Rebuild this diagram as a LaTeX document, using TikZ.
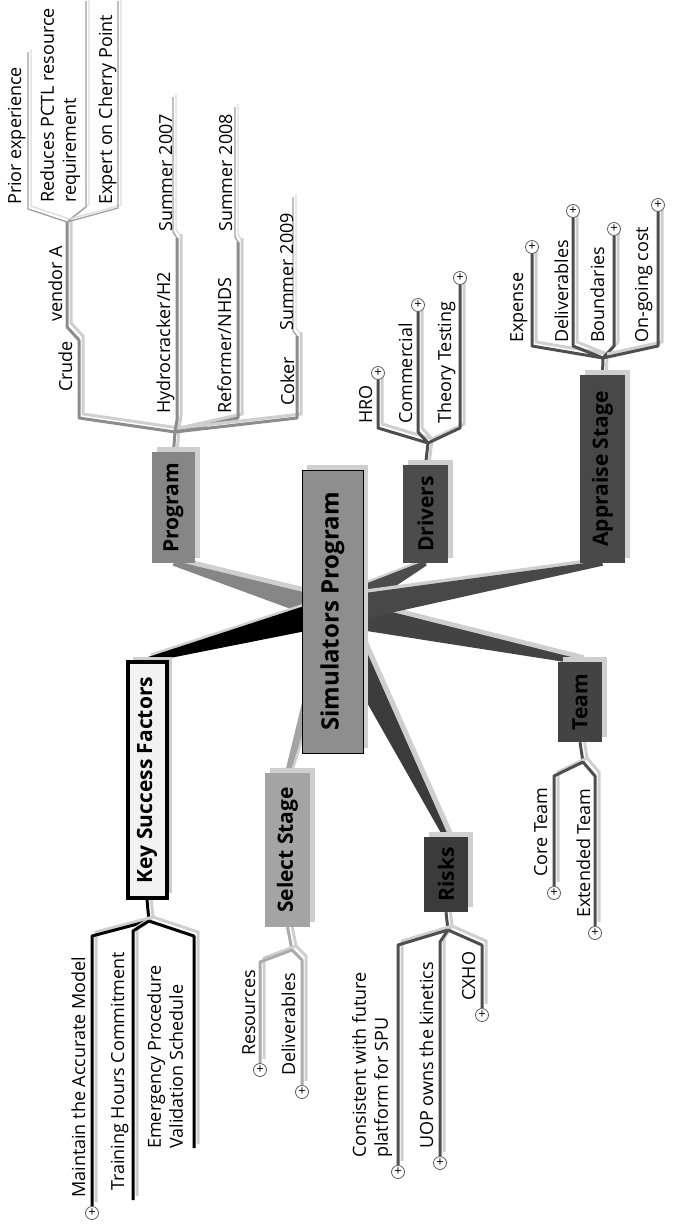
\documentclass[tikz,border=0pt]{standalone}
\usepackage{fontspec}
\setmainfont{Open Sans}
\usetikzlibrary{calc,shadows}
\definecolor{rootfill}{HTML}{8E8E8E}
\definecolor{progfill}{HTML}{868686}
\definecolor{selfill}{HTML}{A4A4A4}
\definecolor{drvfill}{HTML}{4C4C4C}
\definecolor{apprfill}{HTML}{484848}
\definecolor{teamfill}{HTML}{434343}
\definecolor{riskfill}{HTML}{3B3B3B}
\definecolor{ksffill}{HTML}{F2F2F2}
\definecolor{progline}{HTML}{8C8C8C}
\definecolor{fineline}{HTML}{A0A0A0}
\definecolor{selline}{HTML}{ABABAB}
\definecolor{darkline}{HTML}{4E4E4E}
\definecolor{shadowc}{HTML}{CFCFCF}
\pgfdeclarelayer{back}
\pgfsetlayers{back,main}
% tapered connector from the root: from, to, colour, half width at the root
\newcommand\spoke[4]{%
  \fill[shadowc, transform canvas={shift={(4pt,4pt)}}]
    ($(#1)!#4!90:(#2)$) -- ($(#1)!#4!-90:(#2)$) --
    ($(#2)!2.5pt!90:(#1)$) -- ($(#2)!2.5pt!-90:(#1)$) -- cycle;
  \fill[#3]
    ($(#1)!#4!90:(#2)$) -- ($(#1)!#4!-90:(#2)$) --
    ($(#2)!2.5pt!90:(#1)$) -- ($(#2)!2.5pt!-90:(#1)$) -- cycle;}

\begin{document}
\begin{tikzpicture}[x=1pt, y=-1pt,
  box/.style={inner sep=0pt, font=\fontsize{21}{25}\selectfont\bfseries,
    drop shadow={shadow xshift=5pt, shadow yshift=5pt, fill=shadowc, opacity=1}},
  root/.style={box, draw=black, line width=0.6pt, fill=rootfill,
    font=\fontsize{24}{28}\selectfont\bfseries},
  leaf/.style={rotate=90, anchor=base west, inner sep=0pt, font=\fontsize{18}{22}\selectfont},
  twoline/.style={leaf, align=left, anchor=north west},
  twig/.style={line width=3pt, line join=round,
    preaction={draw=shadowc, line width=3pt, transform canvas={shift={(4pt,4pt)}}}},
  sprig/.style={line width=1.3pt, line join=round, draw=fineline,
    preaction={draw=shadowc!70, line width=1.3pt, transform canvas={shift={(3pt,3pt)}}}},
  plusmark/.style={circle, draw=black!65, fill=white, line width=0.8pt,
    minimum size=13pt, inner sep=0pt, font=\fontsize{13}{13}\selectfont}]
  \useasboundingbox (0,0) rectangle (674,1224);

  % main topics
  \node[root, minimum width=61pt, minimum height=283pt] (sim) at (332.5,611.5) {\rotatebox{90}{Simulators Program}};
  \node[box, fill=progfill, minimum width=43pt, minimum height=111pt] (prog) at (173.5,507.5) {\rotatebox{90}{Program}};
  \node[box, draw=black, line width=4pt, fill=ksffill, minimum width=39pt, minimum height=236pt] (ksf) at (147,780) {\rotatebox{90}{Key Success Factors}};
  \node[box, fill=selfill, minimum width=45pt, minimum height=154pt] (sel) at (287.5,850) {\rotatebox{90}{Select Stage}};
  \node[box, fill=riskfill, minimum width=44pt, minimum height=75pt] (risk) at (446,874.5) {\rotatebox{90}{Risks}};
  \node[box, fill=teamfill, minimum width=44pt, minimum height=80pt] (team) at (580,702) {\rotatebox{90}{Team}};
  \node[box, fill=drvfill, minimum width=45pt, minimum height=98pt] (drv) at (425.5,514) {\rotatebox{90}{Drivers}};
  \node[box, fill=apprfill, minimum width=45pt, minimum height=188pt] (appr) at (602.5,469) {\rotatebox{90}{Appraise Stage}};

  % Program
  \coordinate (pj) at (175,432);
  \coordinate (vj) at (67,222);
  \coordinate (pr) at (28,52);
  \coordinate (rd) at (86,1);
  \coordinate (ex) at (118,1);
  \coordinate (hy) at (177,238);
  \coordinate (s7) at (173,97);
  \coordinate (rf) at (238,242);
  \coordinate (s8) at (235,107);
  \coordinate (ck) at (297,336);
  \coordinate (s9) at (293,197);
  \node[leaf] (crude) at (72,392) {Crude};
  \node[leaf] (vendor) at (62,322) {vendor A};
  \node[leaf] (prior) at (21,205) {Prior experience};
  \node[twoline] (pctl) at (40,203) {Reduces PCTL resource\\requirement};
  \node[leaf] (expert) at (112,205) {Expert on Cherry Point};
  \node[leaf] (hydro) at (170,414) {Hydrocracker/H2};
  \node[leaf] (sum7) at (172,232) {Summer 2007};
  \node[leaf] (reform) at (231,414) {Reformer/NHDS};
  \node[leaf] (sum8) at (232,232) {Summer 2008};
  \node[leaf] (coker) at (294,406) {Coker};
  \node[leaf] (sum9) at (293,331) {Summer 2009};

  % Drivers
  \coordinate (dj) at (428,443);
  \node[plusmark] (hroE) at (378,373) {+};
  \node[plusmark] (comE) at (418,305) {+};
  \node[plusmark] (theE) at (460,278) {+};
  \node[leaf] (hro) at (372,424) {HRO};
  \node[leaf] (comm) at (412,424) {Commercial};
  \node[leaf] (theory) at (451,424) {Theory Testing};

  % Appraise Stage
  \coordinate (aj) at (603,358);
  \node[plusmark] (expE) at (532,247) {+};
  \node[plusmark] (delE) at (573,211) {+};
  \node[plusmark] (bouE) at (614,229) {+};
  \node[plusmark] (ongE) at (658,205) {+};
  \node[leaf] (expense) at (523,343) {Expense};
  \node[leaf] (adeliv) at (568,343) {Deliverables};
  \node[leaf] (bound) at (604,343) {Boundaries};
  \node[leaf] (ongo) at (648,343) {On-going cost};

  % Team
  \coordinate (tj) at (583,762);
  \node[plusmark] (corE) at (554,893) {+};
  \node[plusmark] (extE) at (595,933) {+};
  \node[leaf] (core) at (547,877) {Core Team};
  \node[leaf] (ext) at (590,918) {Extended Team};

  % Risks
  \coordinate (rj) at (448,930);
  \node[plusmark] (conE) at (398,1172) {+};
  \node[plusmark] (uopE) at (440,1163) {+};
  \node[plusmark] (cxhE) at (482,1015) {+};
  \node[twoline] (consist) at (352,1158) {Consistent with future\\platform for SPU};
  \node[leaf] (uop) at (433,1149) {UOP owns the kinetics};
  \node[leaf] (cxho) at (475,1001) {CXHO};

  % Select Stage
  \coordinate (sj) at (292,950);
  \node[plusmark] (resE) at (260,1070) {+};
  \node[plusmark] (sdeE) at (302,1092) {+};
  \node[leaf] (resour) at (255,1056) {Resources};
  \node[leaf] (sdeliv) at (295,1076) {Deliverables};

  % Key Success Factors
  \coordinate (kj) at (149,921);
  \coordinate (tra) at (133,1200);
  \coordinate (eme) at (194,1148);
  \node[plusmark] (maiE) at (92,1213) {+};
  \node[leaf] (maint) at (85,1198) {Maintain the Accurate Model};
  \node[leaf] (train) at (124,1191) {Training Hours Commitment};
  \node[twoline] (emerg) at (147,1149) {Emergency Procedure\\Validation Schedule};

  \begin{pgfonlayer}{back}
    \spoke{sim.center}{prog.south}{progfill}{12pt}
    \spoke{sim.center}{ksf.north}{black}{14pt}
    \spoke{sim.center}{sel.north}{selfill}{8pt}
    \spoke{sim.center}{risk.north}{riskfill}{15pt}
    \spoke{sim.center}{team.north}{teamfill}{14pt}
    \spoke{sim.center}{drv.south}{drvfill}{14pt}
    \spoke{sim.center}{appr.south}{apprfill}{14pt}

    \draw[twig, progline] (prog.north) -- (pj);
    \draw[twig, progline] (pj) -- (79,418) -- (79,340) -- (67,327) -- (vj);
    \draw[sprig] (vj) -- (28,209) -- (pr);
    \draw[sprig] (vj) -- (86,207) -- (rd);
    \draw[sprig] (vj) -- (118,208) -- (ex);
    \draw[twig, progline] (pj) -- (177,420) -- (hy);
    \draw[sprig] (hy) -- (173,232) -- (s7);
    \draw[twig, progline] (pj) -- (238,418) -- (rf);
    \draw[sprig] (rf) -- (235,237) -- (s8);
    \draw[twig, progline] (pj) -- (297,418) -- (ck);
    \draw[sprig] (ck) -- (293,331) -- (s9);

    \draw[twig, darkline] (drv.north) -- (dj);
    \draw[twig, darkline] (dj) -- (378,428) -- (hroE);
    \draw[twig, darkline] (dj) -- (418,432) -- (comE);
    \draw[twig, darkline] (dj) -- (460,428) -- (theE);

    \draw[twig, darkline] (appr.north) -- (aj);
    \draw[twig, darkline] (aj) -- (532,346) -- (expE);
    \draw[twig, darkline] (aj) -- (573,346) -- (delE);
    \draw[twig, darkline] (aj) -- (614,346) -- (bouE);
    \draw[twig, darkline] (aj) -- (658,346) -- (ongE);

    \draw[twig, darkline] (team.south) -- (tj);
    \draw[twig, darkline] (tj) -- (554,776) -- (corE);
    \draw[twig, darkline] (tj) -- (595,776) -- (extE);

    \draw[twig, darkline] (risk.south) -- (rj);
    \draw[twig, darkline] (rj) -- (398,945) -- (conE);
    \draw[twig, darkline] (rj) -- (440,942) -- (uopE);
    \draw[twig, darkline] (rj) -- (482,945) -- (cxhE);

    \draw[twig, selline] (sel.south) -- (sj);
    \draw[twig, selline] (sj) -- (260,962) -- (resE);
    \draw[twig, selline] (sj) -- (302,960) -- (sdeE);

    \draw[twig, black] (ksf.south) -- (kj);
    \draw[twig, black] (kj) -- (92,936) -- (maiE);
    \draw[twig, black] (kj) -- (133,931) -- (tra);
    \draw[twig, black] (kj) -- (194,936) -- (eme);
  \end{pgfonlayer}
\end{tikzpicture}
\end{document}
